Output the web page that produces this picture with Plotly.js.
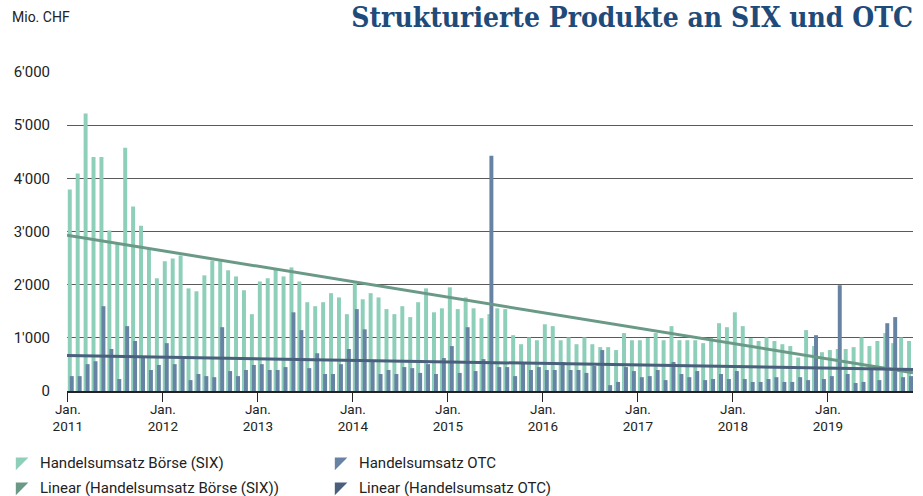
<!DOCTYPE html>
<html>
<head>
<meta charset="utf-8">
<script src="https://cdn.plot.ly/plotly-3.0.1.min.js"></script>
<style>html,body{margin:0;padding:0;background:#fff;}#chart{width:923px;height:496px;}</style>
</head>
<body>
<div id="chart"></div>
<script>
// Monthly values, Jan 2011 – Nov 2019 (Mio. CHF)
const startYear = 2011;
const six = [
  3790,4090,5220,4400,4400,3020,2770,4575,3470,3110,2675,2120,
  2440,2490,2550,1930,1875,2175,2455,2440,2270,2155,1895,1445,
  2060,2120,2290,2155,2325,2060,1670,1595,1670,1840,1760,1445,
  2025,1725,1840,1760,1540,1445,1595,1390,1670,1930,1480,1555,
  1950,1540,1760,1555,1370,1445,1555,1540,1050,880,1010,955,
  1255,1220,955,1010,880,1010,880,825,825,770,1090,955,
  955,995,1090,955,1220,955,955,955,900,995,1275,1200,
  1480,1220,995,940,1010,940,880,845,630,1145,845,730,
  770,790,790,825,1010,845,940,1090,900,1010,940
];
const otc = [
  280,280,505,560,1595,790,225,1220,940,655,395,490,
  900,505,655,205,320,280,260,1200,375,280,395,490,
  505,395,395,450,1480,1145,430,710,320,320,505,790,
  1540,1160,560,320,395,320,450,430,340,505,320,620,
  845,340,1200,375,600,4425,450,450,280,545,395,450,
  395,395,545,395,395,340,470,770,110,170,450,375,
  260,280,395,205,545,320,260,375,205,225,320,225,
  375,225,170,170,225,260,170,170,260,205,1050,225,
  280,1990,320,150,170,395,205,1275,1390,260,280
];
const years = [2011,2012,2013,2014,2015,2016,2017,2018,2019];
const names = ['Handelsumsatz Börse (SIX)','Handelsumsatz OTC','Linear (Handelsumsatz Börse (SIX))','Linear (Handelsumsatz OTC)'];

const colSix = '#8dcfb8', colOtc = '#6783a4', colSixT = '#6a9a87', colOtcT = '#4a5f7c';

const idx = six.map((_, i) => i);
const xRange = [-0.1, idx.length - 1 + 0.75];

function linfit(ys, shift) {
  const n = ys.length;
  let sx = 0, sy = 0, sxx = 0, sxy = 0;
  ys.forEach((y, i) => { const x = i + shift; sx += x; sy += y; sxx += x * x; sxy += x * y; });
  const b = (n * sxy - sx * sy) / (n * sxx - sx * sx);
  const a = (sy - b * sx) / n;
  return x => a + b * x;
}
const fSix = linfit(six, 0.375), fOtc = linfit(otc, 0.375);

const tickvals = years.map((y) => (y - startYear) * 12);
const ticktext = years.map(y => 'Jan.<br>' + y);

const traces = [
  {type:'bar', x: idx, y: six, width: 0.5, offset: 0, marker:{color: colSix}, showlegend:false, hoverinfo:'y'},
  {type:'bar', x: idx, y: otc, width: 0.5, offset: 0.25, marker:{color: colOtc}, showlegend:false, hoverinfo:'y'},
  {type:'scatter', mode:'lines', x: xRange, y: xRange.map(fSix), line:{color: colSixT, width: 3}, showlegend:false},
  {type:'scatter', mode:'lines', x: xRange, y: xRange.map(fOtc), line:{color: colOtcT, width: 3}, showlegend:false},
  // legend entries (row 1 -> legend, row 2 -> legend2)
  {type:'scatter', mode:'markers', x:[null], y:[null], name: names[0], legend:'legend', marker:{symbol:'triangle-nw', size:14, color: colSix}},
  {type:'scatter', mode:'markers', x:[null], y:[null], name: names[1], legend:'legend', marker:{symbol:'triangle-nw', size:14, color: colOtc}},
  {type:'scatter', mode:'markers', x:[null], y:[null], name: names[2], legend:'legend2', marker:{symbol:'triangle-nw', size:14, color: colSixT}},
  {type:'scatter', mode:'markers', x:[null], y:[null], name: names[3], legend:'legend2', marker:{symbol:'triangle-nw', size:14, color: colOtcT}}
];

const legendBase = {
  orientation: 'h', xref: 'container', yref: 'container', x: -10/923, xanchor: 'left', yanchor: 'middle',
  entrywidth: 274, entrywidthmode: 'pixels', bgcolor: 'rgba(0,0,0,0)',
  font: {size: 15, color: '#222'}, itemclick: false, traceorder: 'normal'
};

const layout = {
  width: 923, height: 496,
  margin: {l: 67, r: 10, t: 72, b: 105, autoexpand: false},
  paper_bgcolor: '#fff', plot_bgcolor: '#fff',
  separators: ".'",
  barmode: 'overlay',
  font: {family: 'Roboto, "Liberation Sans", sans-serif', color: '#222'},
  title: {
    text: 'Strukturierte Produkte an SIX und OTC',
    font: {family: '"DejaVu Serif Condensed", "DejaVu Serif", serif', size: 28, color: '#1f4b7a', weight: 'bold'},
    xref: 'paper', x: 1, xanchor: 'right',
    yref: 'container', y: 1 - 17/496, yanchor: 'middle'
  },
  annotations: [
    {text: 'Mio. CHF', xref: 'paper', yref: 'paper', x: -57/846, y: 1 + (72-17)/319, xanchor: 'left', yanchor: 'middle',
     showarrow: false, font: {size: 14, color: '#222'}}
  ],
  xaxis: {
    range: xRange, tickvals: tickvals, ticktext: ticktext,
    ticks: 'outside', ticklen: 9, tickcolor: '#222', tickwidth: 1,
    showline: true, linecolor: '#222', linewidth: 1.5,
    showgrid: false, zeroline: false, automargin: false,
    ticklabelstandoff: -4,
    tickfont: {size: 13.5, color: '#222'}
  },
  yaxis: {
    range: [0, 6000], dtick: 1000, tickformat: ',d',
    showgrid: true, gridcolor: '#5a5a5a', gridwidth: 1,
    zeroline: false, showline: false, automargin: false,
    ticks: 'outside', ticklen: 13, tickcolor: 'rgba(0,0,0,0)',
    tickfont: {size: 15, color: '#222'}
  },
  legend: Object.assign({}, legendBase, {y: 1 - 462/496}),
  legend2: Object.assign({}, legendBase, {y: 1 - 487/496}),
  showlegend: true
};

Plotly.newPlot('chart', traces, layout, {staticPlot: true});
</script>
</body>
</html>
